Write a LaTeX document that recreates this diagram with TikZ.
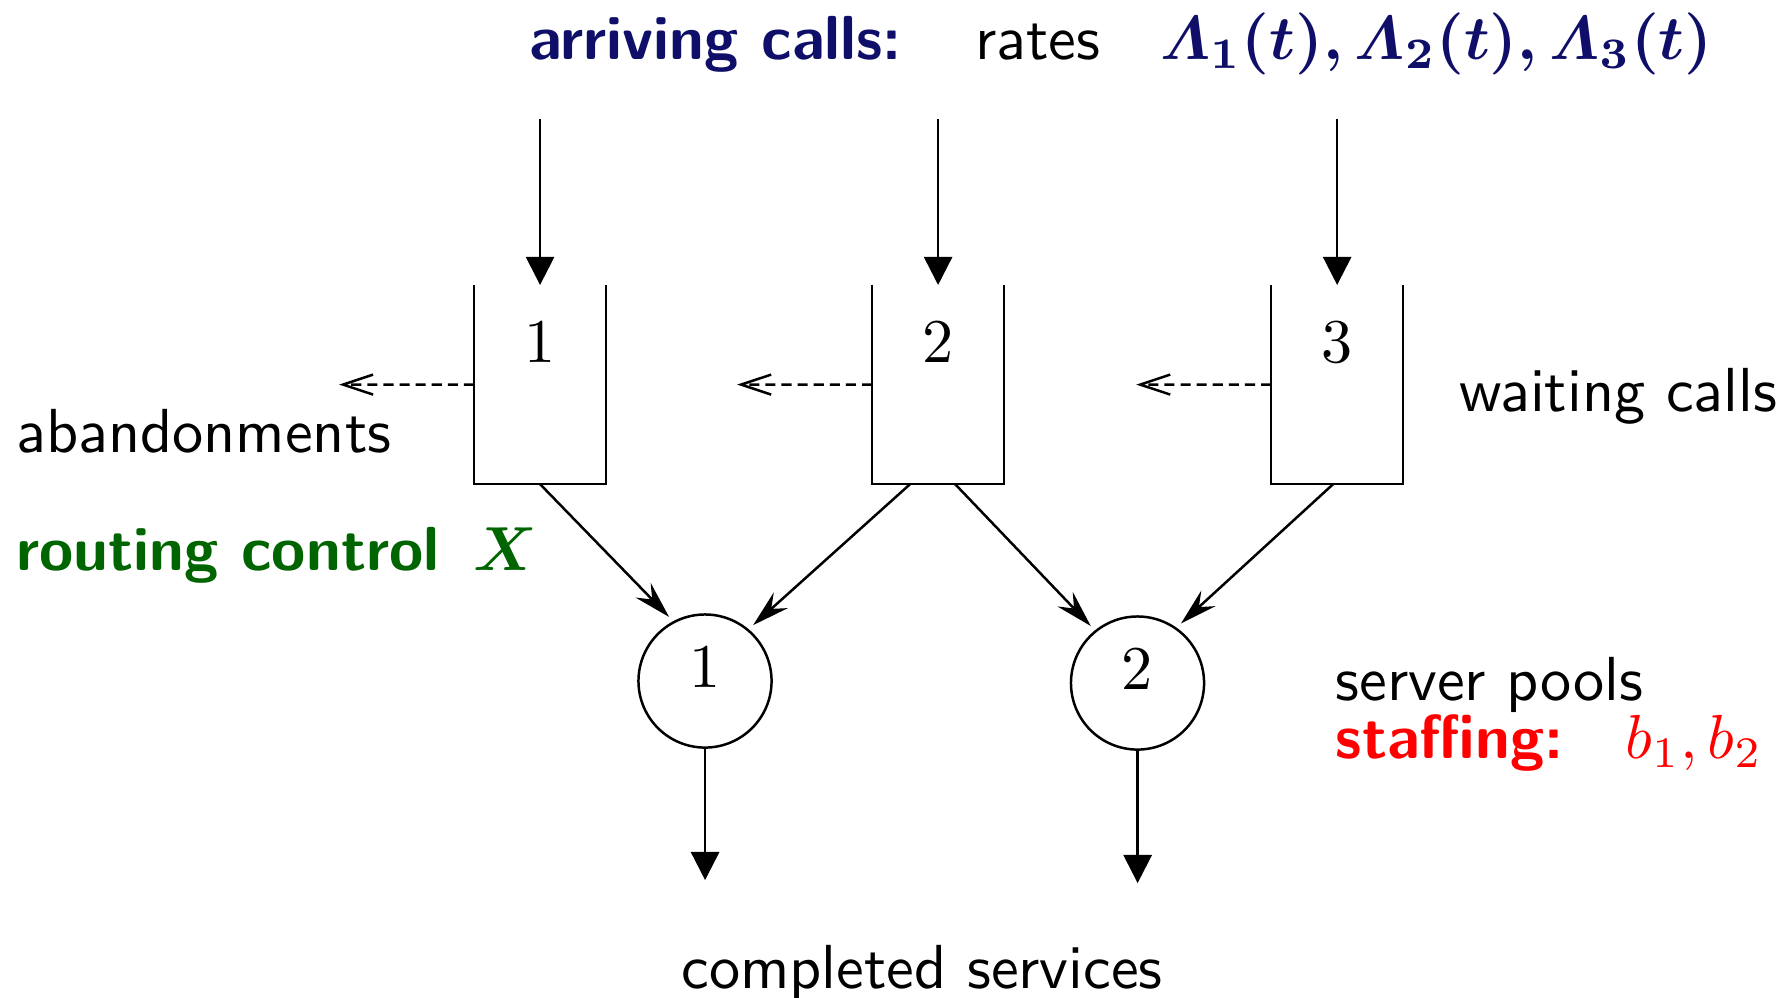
\documentclass[tikz,border=0pt]{standalone}
\usepackage{amsmath, amssymb}
\usepackage{tikz}
\usetikzlibrary{arrows.meta}
\definecolor{callNavy}{RGB}{15, 15, 105}
\definecolor{routeGreen}{RGB}{0, 100, 0}
\definecolor{staffRed}{RGB}{255, 0, 0}

\begin{document}
\begin{tikzpicture}[scale=0.565,
    txt/.style={font=\sffamily, inner sep=0pt},
    queue/.style={minimum width=0.746cm, minimum height=1.125cm, inner sep=0pt, outer sep=0pt},
    pool/.style={draw, circle, minimum size=0.752cm, inner sep=0pt, text depth=4.5pt},
    arrive/.style={-{Triangle[length=0.159cm,width=0.159cm]}},
    route/.style={-{Stealth[length=0.21cm,width=0.119cm,inset=0.073cm]}, shorten >=0.034cm},
    abandon/.style={dash pattern=on 0.057cm off 0.034cm, -{Straight Barb[length=0.17cm,width=0.113cm]}}]
  \useasboundingbox (0,0) rectangle (17.9,-9.97);

  % queues, arrivals and abandonments
  \foreach \i/\x in {1/5.40, 2/9.38, 3/13.37} {
    \node[queue] (q\i) at (\x,-3.845) {};
    \draw (q\i.north west) -- (q\i.south west) -- (q\i.south east) -- (q\i.north east);
    \node (n\i) at ([yshift=-0.57cm]q\i.north) {$\i$};
    \coordinate (in\i) at (\x,-1.19);
    \draw[arrive] (in\i) -- (q\i.north);
    \coordinate (ab\i) at ([xshift=-1.35cm]q\i.west);
    \draw[abandon] (q\i.west) -- (ab\i);
  }

  % server pools
  \node[pool] (s1) at (7.05,-6.81) {$1$};
  \node[pool] (s2) at (11.375,-6.83) {$2$};
  \draw[route] (q1.south) -- (s1.118);
  \draw[route] ([xshift=-0.28cm]q2.south) -- (s1.50);
  \draw[route] ([xshift=0.17cm]q2.south) -- (s2.129);
  \draw[route] ([xshift=-0.04cm]q3.south) -- (s2.55);
  \coordinate (out1) at (7.05,-8.80);
  \coordinate (out2) at (11.375,-8.83);
  \draw[arrive] (s1.south) -- (out1);
  \draw[arrive] (s2.south) -- (out2);

  % labels
  \node[txt, anchor=base west, text=callNavy] (arr) at (5.286,-0.59) {\bfseries arriving calls:};
  \node[txt, anchor=base west] (rates) at (9.74,-0.59) {rates};
  \node[txt, anchor=base west, text=callNavy] (lam) at (11.59,-0.59) {$\boldsymbol{\varLambda_1(t), \varLambda_2(t), \varLambda_3(t)}$};
  \node[txt, anchor=west] (wait) at (14.58,-3.96) {waiting calls};
  \node[txt, anchor=west] (aband) at (0.15,-4.315) {abandonments};
  \node[txt, anchor=west, text=routeGreen] (rout) at (0.15,-5.55) {\bfseries routing control\hspace{5.5pt}$\boldsymbol{X}$};
  \node[txt, anchor=west] (pools) at (13.345,-6.85) {server pools};
  \node[txt, anchor=west, text=staffRed] (staff) at (13.345,-7.43) {\bfseries staffing:\quad$b_1, b_2$};
  \node[txt] (done) at (9.22,-9.73) {completed services};
\end{tikzpicture}
\end{document}
